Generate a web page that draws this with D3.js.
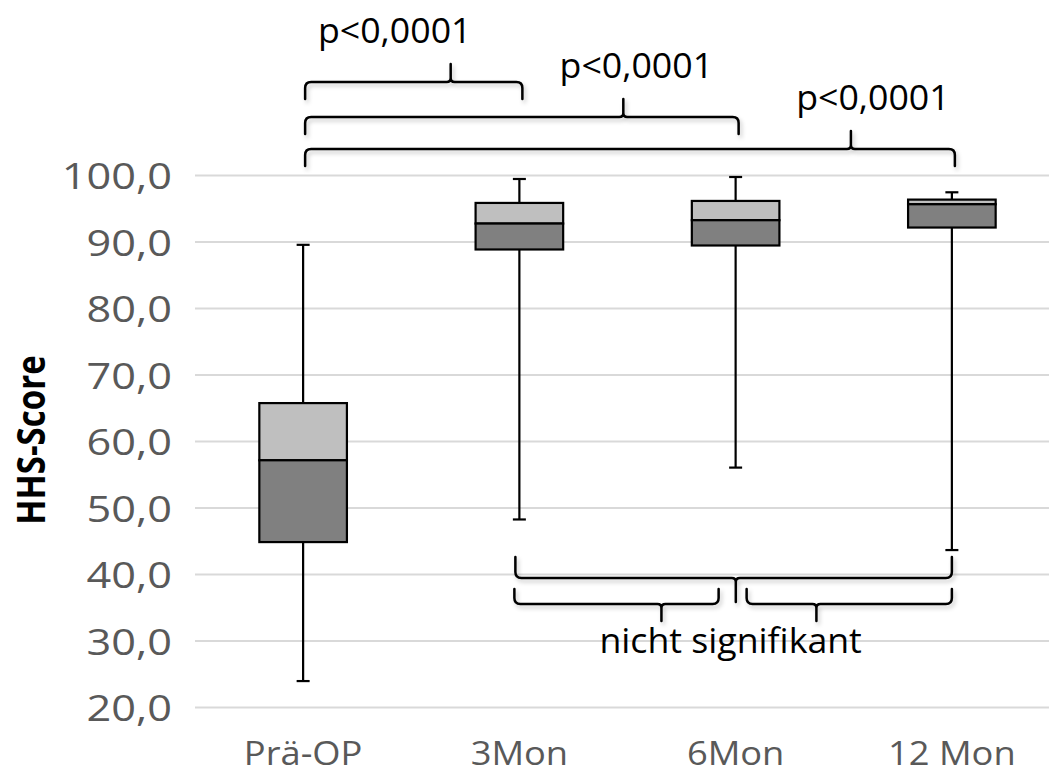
<!DOCTYPE html>
<html>
<head>
<meta charset="utf-8">
<script src="https://cdn.jsdelivr.net/npm/d3@7"></script>
<style>
  body { margin: 0; background: #ffffff; }
  svg { display: block; }
</style>
</head>
<body>
<svg id="chart" width="1049" height="774"></svg>
<script>
// HHS-Score over time: five-number summaries per time point
const categories   = ["Prä-OP", "3Mon", "6Mon", "12 Mon"];
const minValues    = [23.9, 48.2, 56.0, 43.6];
const q1Values     = [44.8, 88.8, 89.4, 92.1];
const medianValues = [57.1, 92.7, 93.2, 95.6];
const q3Values     = [65.7, 95.8, 96.1, 96.3];
const maxValues    = [89.5, 99.4, 99.7, 97.4];
const yTicks       = [20, 30, 40, 50, 60, 70, 80, 90, 100];
const yTitle       = "HHS-Score";

// significance brackets
const sigPairs  = [["Prä-OP", "3Mon"], ["Prä-OP", "6Mon"], ["Prä-OP", "12 Mon"]];
const sigLabels = ["p<0,0001", "p<0,0001", "p<0,0001"];
const nsPairs   = [["3Mon", "12 Mon"], ["3Mon", "6Mon"], ["6Mon", "12 Mon"]];
const nsLabel   = "nicht signifikant";

const width = 1049, height = 774;
const svg = d3.select("#chart");
const FONT = "'Open Sans', 'Noto Sans', sans-serif";

const x = d3.scalePoint().domain(categories).range([195, 1060]).padding(0.5);
const y = d3.scaleLinear().domain([20, 100]).range([707, 175]);
const boxW = x.step() * 0.405;

const defs = svg.append("defs");
defs.append("filter").attr("id", "shadow")
  .attr("x", "-5%").attr("y", "-50%").attr("width", "110%").attr("height", "200%")
  .append("feDropShadow")
  .attr("dx", 2).attr("dy", 3).attr("stdDeviation", 2)
  .attr("flood-color", "#000").attr("flood-opacity", 0.22);

// text helper with optional horizontal stretch
function addText(parent, px, py, txt, size, opts = {}) {
  const sx = opts.stretch || 1.15;
  return parent.append("text")
    .attr("transform", `translate(${px},${py}) scale(${sx},1)` + (opts.rotate ? ` rotate(${opts.rotate})` : ""))
    .attr("text-anchor", opts.anchor || "middle")
    .attr("dominant-baseline", opts.baseline || "auto")
    .attr("font-family", FONT)
    .attr("font-size", size)
    .attr("font-weight", opts.weight || 400)
    .attr("fill", opts.fill || "#000")
    .text(txt);
}

// gridlines
const yAxis = d3.axisLeft(y).tickValues(yTicks).tickSize(-(width - 195)).tickFormat("");
const gAxis = svg.append("g").attr("transform", "translate(195,0)").call(yAxis);
gAxis.select(".domain").remove();
gAxis.selectAll(".tick line").attr("stroke", "#d9d9d9").attr("stroke-width", 2);

// tick labels
const fmt = v => d3.format(".1f")(v).replace(".", ",");
yTicks.forEach(t => addText(svg, 172, y(t), fmt(t), 37, { anchor: "end", baseline: "central", fill: "#595959", stretch: 1.17 }));

// category labels
categories.forEach(c => addText(svg, x(c), 765, c, 33, { fill: "#595959", stretch: 1.1 }));

// axis title
addText(svg, 30, 440, yTitle, 33, { rotate: -90, weight: 700, baseline: "central", stretch: 1.2 });

// boxes
const rows = categories.map((c, i) => ({
  c, min: minValues[i], q1: q1Values[i], med: medianValues[i], q3: q3Values[i], max: maxValues[i]
}));
const gBox = svg.append("g");
rows.forEach(d => {
  const cx = x(d.c);
  const capW = 13;
  // whiskers
  [[d.q3, d.max], [d.q1, d.min]].forEach(([a, b]) => {
    gBox.append("line").attr("x1", cx).attr("x2", cx).attr("y1", y(a)).attr("y2", y(b))
      .attr("stroke", "#000").attr("stroke-width", 2.2);
    gBox.append("line").attr("x1", cx - capW / 2).attr("x2", cx + capW / 2).attr("y1", y(b)).attr("y2", y(b))
      .attr("stroke", "#000").attr("stroke-width", 2.2);
  });
  // upper half (median to Q3)
  gBox.append("rect").attr("x", cx - boxW / 2).attr("width", boxW)
    .attr("y", y(d.q3)).attr("height", y(d.med) - y(d.q3))
    .attr("fill", "#bfbfbf").attr("stroke", "#000").attr("stroke-width", 2.2);
  // lower half (Q1 to median)
  gBox.append("rect").attr("x", cx - boxW / 2).attr("width", boxW)
    .attr("y", y(d.med)).attr("height", y(d.q1) - y(d.med))
    .attr("fill", "#808080").attr("stroke", "#000").attr("stroke-width", 2.2);
});

// curly brace path
function bracePath(x0, x1, yLine, depth, tipX, tipH) {
  const s = Math.sign(depth), r = 6, rt = 4;
  return [
    `M${x0},${yLine + depth}`,
    `L${x0},${yLine + s * r}`,
    `Q${x0},${yLine} ${x0 + r},${yLine}`,
    `L${tipX - rt},${yLine}`,
    `Q${tipX},${yLine} ${tipX},${yLine - s * rt}`,
    `L${tipX},${yLine - s * tipH}`,
    `M${tipX},${yLine - s * rt}`,
    `Q${tipX},${yLine} ${tipX + rt},${yLine}`,
    `L${x1 - r},${yLine}`,
    `Q${x1},${yLine} ${x1},${yLine + s * r}`,
    `L${x1},${yLine + depth}`
  ].join(" ");
}

const gBr = svg.append("g").attr("filter", "url(#shadow)")
  .attr("fill", "none").attr("stroke", "#000").attr("stroke-width", 2.5)
  .attr("stroke-linecap", "round").attr("stroke-linejoin", "round");

// significance braces above the boxes
const sigRowY = [82, 117, 149];
const sigTipFrac = [0.67, 0.734, 0.84];
const sigLabelDx = [-56, 13, 22];
sigPairs.forEach(([a, b], i) => {
  const x0 = x(a) + 2, x1 = x(b) + 3;
  const tipX = x0 + (x1 - x0) * sigTipFrac[i];
  gBr.append("path").attr("d", bracePath(x0, x1, sigRowY[i], 17, tipX, 18));
  addText(svg, tipX + sigLabelDx[i], sigRowY[i] - 39, sigLabels[i], 34, { stretch: 1.05 });
});

// non-significant braces below
const nsLayout = [
  { yLine: 578, depth: -21, tipH: 24, dx0: -4, dx1: 0, frac: 0.505 },
  { yLine: 604, depth: -15, tipH: 17, dx0: -5, dx1: -17, frac: 0.72 },
  { yLine: 604, depth: -15, tipH: 17, dx0: 11, dx1: 0, frac: 0.34 }
];
nsPairs.forEach(([a, b], i) => {
  const L = nsLayout[i];
  const x0 = x(a) + L.dx0, x1 = x(b) + L.dx1;
  const tipX = x0 + (x1 - x0) * L.frac;
  gBr.append("path").attr("d", bracePath(x0, x1, L.yLine, L.depth, tipX, L.tipH));
});
addText(svg, x("6Mon") - 5, 653, nsLabel, 34, { stretch: 1.05 });
</script>
</body>
</html>
